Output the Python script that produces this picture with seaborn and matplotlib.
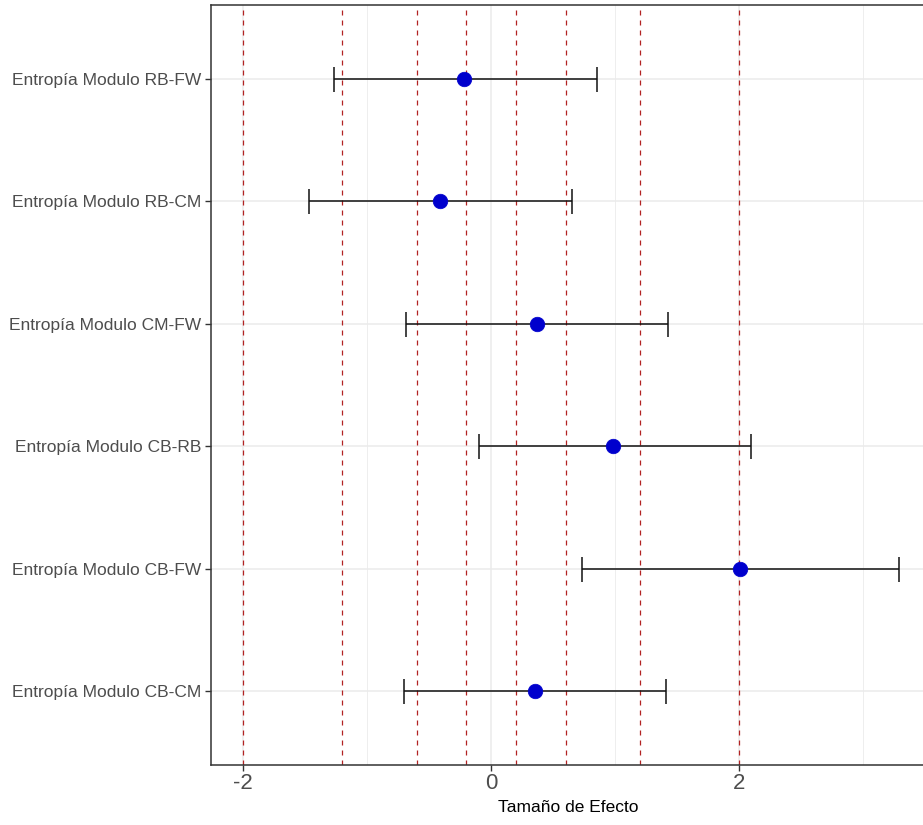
"""
Forest plot: effect size per entropy module comparison.
"""
import matplotlib
matplotlib.use("Agg")
import matplotlib.pyplot as plt
import numpy as np
import pandas as pd
import seaborn as sns

comparisons = [
    "Entropía Modulo RB-FW",
    "Entropía Modulo RB-CM",
    "Entropía Modulo CM-FW",
    "Entropía Modulo CB-RB",
    "Entropía Modulo CB-FW",
    "Entropía Modulo CB-CM",
]
effect = [-0.22, -0.41, 0.37, 0.98, 2.01, 0.35]
ci_low = [-1.27, -1.47, -0.69, -0.10, 0.73, -0.70]
ci_high = [0.85, 0.65, 1.43, 2.10, 3.29, 1.41]
thresholds = [-2, -1.2, -0.6, -0.2, 0.2, 0.6, 1.2, 2]

df = pd.DataFrame({
    "comparison": comparisons,
    "effect": effect,
    "low": ci_low,
    "high": ci_high,
})

sns.set_theme(style="whitegrid")
plt.rcParams['font.family'] = ['Liberation Sans', 'DejaVu Sans']
plt.rcParams['axes.unicode_minus'] = False

fig = plt.figure(figsize=(9.23, 8.25), dpi=100)
ax = fig.add_axes([211 / 923, 60 / 825, 714 / 923, 760 / 825])

# grid: major at -2, 0, 2, minor at -1, 1, 3
ax.set_xticks([-2, 0, 2])
ax.set_xticks([-1, 1, 3], minor=True)
ax.grid(True, which="major", color="#ebebeb", lw=1.1)
ax.grid(True, which="minor", axis="x", color="#ebebeb", lw=0.6)
ax.set_axisbelow(True)

for t in thresholds:
    ax.axvline(t, color="#b22222", lw=0.9, ls=(0, (4, 4)), zorder=1)

ypos = np.arange(len(df))
ax.errorbar(
    x=df["effect"], y=ypos,
    xerr=[df["effect"] - df["low"], df["high"] - df["effect"]],
    fmt="none", ecolor="#111111", elinewidth=1.1, capsize=9,
    capthick=1.1, zorder=2
)
sns.scatterplot(
    data=df, x="effect", y=ypos, color="#0000cd", s=110,
    edgecolor="#0000cd", linewidth=0.5, ax=ax, zorder=3
)

ax.set_yticks(ypos)
ax.set_yticklabels(df["comparison"])
ax.set_ylim(len(df) - 0.4, -0.6)
ax.set_xlim(-2.26, 3.5)

ax.set_xlabel("Tamaño de Efecto", fontsize=12.5, color="black", labelpad=4)
ax.set_ylabel("")
ax.tick_params(axis="x", which="major", labelsize=16, labelcolor="#4d4d4d",
               length=4, width=1, color="#333333", bottom=True, pad=2)
ax.tick_params(axis="x", which="minor", length=0)
ax.tick_params(axis="y", labelsize=12.5, labelcolor="#4d4d4d",
               length=4, width=1, color="#333333", left=True, pad=3)

for side in ["left", "bottom", "top", "right"]:
    ax.spines[side].set_visible(True)
    ax.spines[side].set_color("#333333")
    ax.spines[side].set_linewidth(1.1)

fig.savefig("out.png", dpi=100)
